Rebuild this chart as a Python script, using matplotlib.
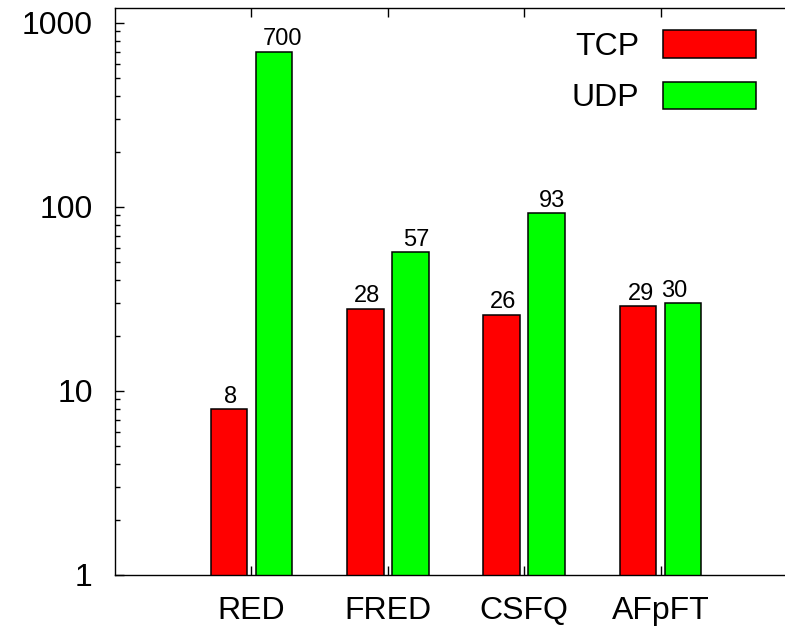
import numpy as np
import matplotlib.pyplot as plt
from matplotlib.ticker import FixedLocator, LogLocator, NullFormatter

plt.rcParams['font.family'] = ['Liberation Sans', 'DejaVu Sans']

# queueing schemes and measured throughput per flow type
schemes = ['RED', 'FRED', 'CSFQ', 'AFpFT']
tcp = [8, 28, 26, 29]
udp = [700, 57, 93, 30]

# horizontal nudges (points) for the value labels
tcp_dx = [1.5, 1.0, 1.0, 2.0]
udp_dx = [6.0, 4.0, 3.5, -6.5]

fig = plt.figure(figsize=(7.85, 6.31), dpi=100)
# axes box runs past the right edge of the canvas
ax = fig.add_axes([115 / 785, 56 / 631, 682 / 785, 567 / 631])

x = np.arange(len(schemes))
w = 0.268
off = 0.165
b1 = ax.bar(x - off, tcp, w, color='#ff0000', edgecolor='black',
            linewidth=1.1, label='TCP')
b2 = ax.bar(x + off, udp, w, color='#00ff00', edgecolor='black',
            linewidth=1.1, label='UDP')

ax.set_yscale('log')
ax.set_ylim(1, 10 ** (567 / 184))
ax.set_xlim(-1, 4)

for xi, v, dx in zip(x - off, tcp, tcp_dx):
    ax.annotate(f'{v}', (xi, v), xytext=(dx, 4.5), textcoords='offset points',
                ha='center', va='baseline', fontsize=17)
for xi, v, dx in zip(x + off, udp, udp_dx):
    ax.annotate(f'{v}', (xi, v), xytext=(dx, 4.5), textcoords='offset points',
                ha='center', va='baseline', fontsize=17)

ax.set_xticks(x)
ax.set_xticklabels(schemes)
ax.yaxis.set_major_locator(FixedLocator([1, 10, 100, 1000]))
ax.set_yticklabels(['1', '10', '100', '1000'])
ax.yaxis.set_minor_locator(LogLocator(base=10, subs=np.arange(2, 10)))
ax.yaxis.set_minor_formatter(NullFormatter())

ax.tick_params(axis='x', which='major', direction='in', length=6.5, width=1,
               top=True, labelsize=23, pad=15)
ax.tick_params(axis='y', which='major', direction='in', length=6.5, width=1,
               right=False, labelsize=23, pad=16)
ax.tick_params(axis='y', which='minor', direction='in', length=3.5, width=1)

for s in ax.spines.values():
    s.set_linewidth(1.0)
ax.spines['right'].set_visible(False)

ax.legend(handles=[b1, b2], loc='upper right', markerfirst=False, frameon=False,
          fontsize=23, handlelength=2.9, handleheight=0.95, handletextpad=0.75,
          labelspacing=0.62, borderpad=0, borderaxespad=0,
          bbox_to_anchor=(756 / 785, 1 - 30 / 631), bbox_transform=fig.transFigure)

fig.savefig('out.png', dpi=100)
